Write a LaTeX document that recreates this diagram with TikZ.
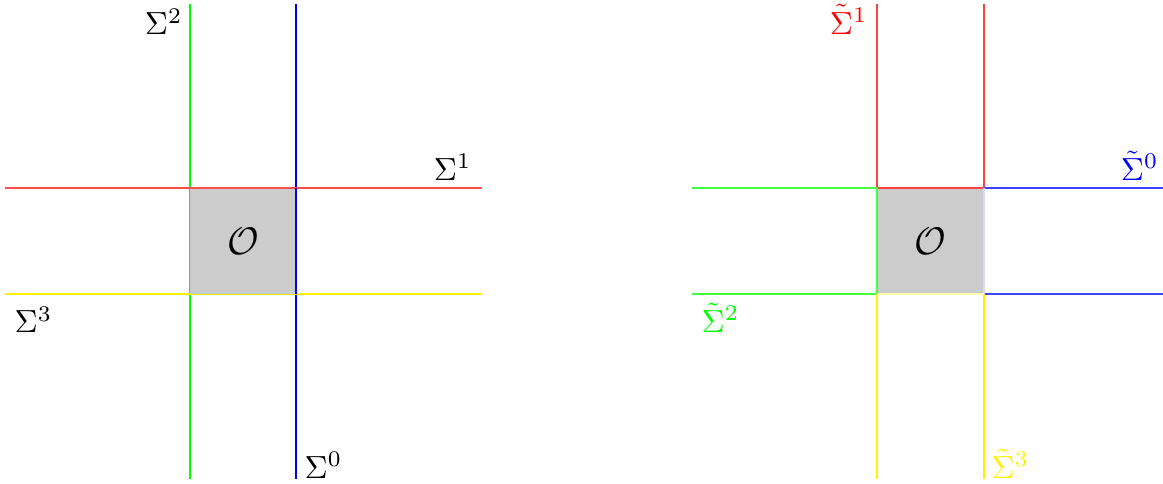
\documentclass[tikz,border=0pt]{standalone}
\begin{document}
\begin{tikzpicture}[x=0.3125pt,y=-0.3125pt,
  ln/.style={line width=0.4pt},
  sq/.style={fill=black!20},
  lbl/.style={inner sep=0pt}]
\useasboundingbox (0,0) rectangle (1163,484);
% ---------- left ----------
\coordinate (lTa) at (190,4);   \coordinate (lBa) at (190,479);
\coordinate (lTb) at (296,4);   \coordinate (lBb) at (296,479);
\coordinate (lLa) at (5,188);   \coordinate (lRa) at (482,188);
\coordinate (lLb) at (5,294);   \coordinate (lRb) at (482,294);
\draw[ln,green] (lTa) -- (lBa);
\draw[ln,blue] (lTb) -- (lBb);
\draw[ln,red!70] (lLa) -- (lRa);
\draw[ln,yellow] (lLb) -- (lRb);
\fill[sq] (190,188) rectangle (296,294);
\draw[ln,red!70] (190,188) -- (296,188);
\draw[ln,blue] (296,188) -- (296,294);
\node (lO) at (243,241) {\large$\mathcal{O}$};
\node[lbl,anchor=north east] (lS2) at (183,8) {$\Sigma^2$};
\node[lbl,anchor=south east] (lS1) at (472,181) {$\Sigma^1$};
\node[lbl,anchor=north west] (lS3) at (14,306) {$\Sigma^3$};
\node[lbl,anchor=south west] (lS0) at (304,479) {$\Sigma^0$};
% ---------- right ----------
\coordinate (rA) at (877,4);   \coordinate (rB) at (984,4);
\coordinate (rA1) at (877,188); \coordinate (rB1) at (984,188);
\coordinate (rA2) at (877,294); \coordinate (rB2) at (984,294);
\coordinate (rA3) at (877,479); \coordinate (rB3) at (984,479);
\coordinate (rL1) at (692,188); \coordinate (rR1) at (1163,188);
\coordinate (rL2) at (692,294); \coordinate (rR2) at (1163,294);
\fill[sq] (rA1) rectangle (rB2);
\draw[ln,red!75] (rA) -- (rA1) -- (rB1) -- (rB);
\draw[ln,green!75] (rL1) -- (rA1) -- (rA2) -- (rL2);
\draw[ln,blue!75] (rR1) -- (rB1);
\draw[ln,blue!75] (rR2) -- (rB2);
\draw[ln,blue!15] (rB1) -- (rB2);
\draw[ln,yellow] (rA3) -- (rA2);
\draw[ln,yellow] (rB3) -- (rB2);
\draw[ln,yellow!30] (rA2) -- (rB2);
\node (rO) at (930,241) {\large$\mathcal{O}$};
\node[lbl,anchor=north east,text=red] (rS1) at (868,4) {$\tilde\Sigma^1$};
\node[lbl,anchor=south east,text=blue] (rS0) at (1159,181) {$\tilde\Sigma^0$};
\node[lbl,anchor=north west,text=green] (rS2) at (701,302) {$\tilde\Sigma^2$};
\node[lbl,anchor=south west,text=yellow] (rS3) at (991,479) {$\tilde\Sigma^3$};
\end{tikzpicture}
\end{document}
